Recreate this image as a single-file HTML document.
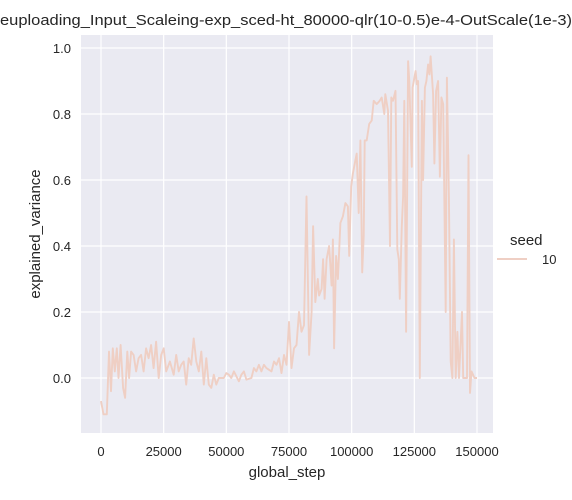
<!DOCTYPE html>
<html><head><meta charset="utf-8"><style>
body{margin:0;background:#fff}
svg{display:block;font-family:"Liberation Sans","DejaVu Sans",sans-serif}
</style></head><body>
<svg id="chart" width="572" height="500" viewBox="0 0 572 500" xmlns="http://www.w3.org/2000/svg">
<rect x="81" y="35" width="412" height="398" fill="#eaeaf2"/>
<g id="grid"></g>
<path id="series" fill="none" stroke="#efcfc4" stroke-width="1.9" stroke-linejoin="round"/>
<g id="ticks"></g>
<text x="0" y="25" font-size="15" fill="#262626" textLength="572" lengthAdjust="spacingAndGlyphs">euploading_Input_Scaleing-exp_sced-ht_80000-qlr(10-0.5)e-4-OutScale(1e-3)</text>
<text x="287" y="477" font-size="15" fill="#262626" text-anchor="middle">global_step</text>
<text transform="translate(40,234) rotate(-90)" font-size="15" fill="#262626" text-anchor="middle">explained_variance</text>
<g>
<text x="510" y="245" font-size="15" fill="#262626">seed</text>
<line x1="497" y1="259" x2="527" y2="259" stroke="#efcfc4" stroke-width="2"/>
<text x="542" y="264" font-size="13" fill="#262626">10</text>
</g>
</svg>
<script>
const xTicks=[0,25000,50000,75000,100000,125000,150000];
const yTicks=[0.0,0.2,0.4,0.6,0.8,1.0];
const steps=[0,1000,2300,3200,4000,4700,5500,6300,7000,7800,8800,9600,10500,11200,12000,13000,14000,15000,16000,17000,18000,19000,20000,21000,22000,23000,24000,25000,26000,27500,29000,30000,31000,32000,33000,34000,35000,36000,37000,38000,39000,40000,41000,42000,43000,44000,45000,46000,47000,48000,49000,50000,51000,52000,53000,55000,56000,57000,58000,60000,61000,62000,63000,64000,65000,66000,68000,69000,70000,71000,72000,73000,74000,75000,76000,77000,78000,79000,80000,81000,82000,83000,84000,84600,85500,86500,87000,88000,88600,89200,90000,91000,92000,92500,93000,93800,94500,95500,96500,97500,98500,99000,99800,100500,101500,102000,102800,103500,104200,104800,105200,106000,107000,108000,108800,110000,111200,112000,113000,113400,114500,115300,115800,116500,117500,118200,118800,119200,120000,120500,121000,121700,122500,123000,124000,124300,125500,126000,126500,127200,128000,128500,129200,129800,130500,131000,131500,132500,133000,133700,134500,135200,135800,136500,137500,138000,138800,139500,140200,140800,141500,142200,142800,144000,144500,146000,146600,147200,147800,149000,150000];
const values=[-0.07,-0.11,-0.11,0.08,-0.04,0.09,0.02,0.09,0.0,0.1,-0.03,-0.06,0.08,0.0,0.08,0.07,0.02,0.06,0.07,0.02,0.09,0.06,0.1,0.03,0.11,0.0,0.07,0.09,0.02,0.05,0.01,0.07,0.02,0.04,0.05,-0.02,0.06,0.04,0.12,0.05,0.02,0.08,-0.02,0.06,-0.02,-0.03,0.01,-0.02,0.0,0.0,0.0,0.015,0.01,0.0,0.02,-0.01,0.01,0.02,-0.005,0.0,0.03,0.02,0.04,0.02,0.04,0.03,0.02,0.05,0.04,0.06,0.015,0.07,0.04,0.17,0.03,0.09,0.1,0.2,0.14,0.16,0.55,0.07,0.2,0.46,0.23,0.3,0.25,0.27,0.36,0.24,0.36,0.4,0.28,0.42,0.09,0.37,0.3,0.47,0.49,0.53,0.52,0.37,0.58,0.62,0.66,0.68,0.5,0.72,0.32,0.43,0.72,0.72,0.77,0.78,0.84,0.83,0.84,0.85,0.8,0.86,0.81,0.4,0.85,0.84,0.87,0.39,0.36,0.24,0.46,0.55,0.84,0.14,0.96,0.9,0.64,0.88,0.93,0.89,0.9,0.0,0.84,0.6,0.88,0.9,0.95,0.92,0.975,0.86,0.65,0.87,0.9,0.61,0.85,0.83,0.2,0.91,0.55,0.05,0.0,0.42,0.0,0.14,0.0,0.2,0.0,0.0,0.675,-0.045,0.02,0.0,0.0];
const xScale=v=>101+v*(376/150000);
const yScale=v=>378-v*330;
const NS="http://www.w3.org/2000/svg";
const grid=document.getElementById('grid'),ticks=document.getElementById('ticks');
xTicks.forEach(t=>{
  const l=document.createElementNS(NS,'line');
  
  
  l.setAttribute('x1',xScale(t));l.setAttribute('x2',xScale(t));l.setAttribute('y1',35);l.setAttribute('y2',433);
  l.setAttribute('stroke','#fff');l.setAttribute('stroke-width','1.2');grid.appendChild(l);
  const tx=document.createElementNS(NS,'text');
  
  
  tx.setAttribute('x',xScale(t));tx.setAttribute('y',456);tx.setAttribute('font-size','13');tx.setAttribute('fill','#262626');tx.setAttribute('text-anchor','middle');
  tx.textContent=t;ticks.appendChild(tx);
});
yTicks.forEach(t=>{
  const l=document.createElementNS(NS,'line');
  
  
  l.setAttribute('x1',81);l.setAttribute('x2',493);l.setAttribute('y1',yScale(t));l.setAttribute('y2',yScale(t));
  l.setAttribute('stroke','#fff');l.setAttribute('stroke-width','1.2');grid.appendChild(l);
  const tx=document.createElementNS(NS,'text');
  
  
  tx.setAttribute('x',71);tx.setAttribute('y',yScale(t)+5);tx.setAttribute('font-size','13');tx.setAttribute('fill','#262626');tx.setAttribute('text-anchor','end');
  tx.textContent=t.toFixed(1);ticks.appendChild(tx);
});
document.getElementById('series').setAttribute('d',steps.map((s,i)=>(i?'L':'M')+xScale(s).toFixed(1)+','+yScale(values[i]).toFixed(1)).join(''));
</script>
</body></html>
